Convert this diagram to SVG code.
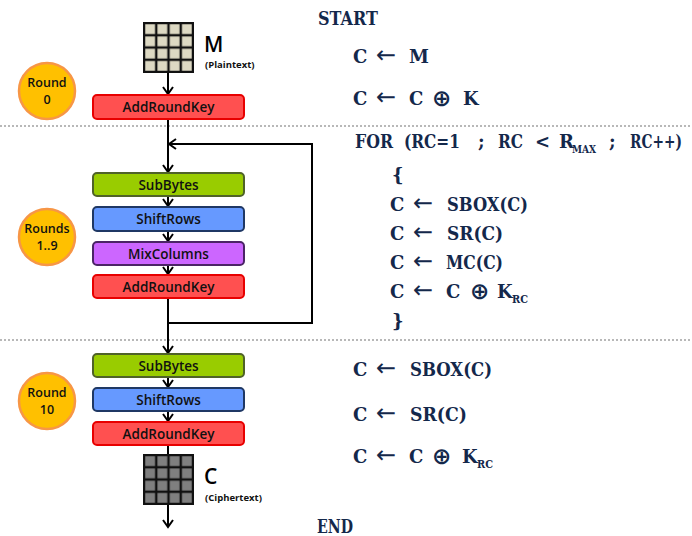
<svg xmlns="http://www.w3.org/2000/svg" width="692" height="536" viewBox="0 0 692 536">
<defs>
<marker id="ah" viewBox="0 0 12 12" refX="10" refY="6" markerWidth="12" markerHeight="12" markerUnits="userSpaceOnUse" orient="auto">
<path d="M3,1 L10,6 L3,11" fill="none" stroke="#000" stroke-width="2"/>
</marker>
<pattern id="g1" x="144" y="23" width="12.25" height="12.25" patternUnits="userSpaceOnUse"><rect width="12.25" height="12.25" fill="#ddd9c3" stroke="#111" stroke-width="2.4"/></pattern>
<pattern id="g2" x="144" y="455" width="12.25" height="12.25" patternUnits="userSpaceOnUse"><rect width="12.25" height="12.25" fill="#7f7f7f" stroke="#111" stroke-width="2.4"/></pattern>
</defs>
<style>
.sep{stroke:#b8b8b8;stroke-width:2;stroke-dasharray:2 2;fill:none}
.ln{stroke:#000;stroke-width:2;fill:none}
.box{stroke-width:2}
.red{fill:#ff5050;stroke:#e80000}
.grn{fill:#99cc00;stroke:#4f6228}
.blu{fill:#6699ff;stroke:#1f3864}
.pur{fill:#cc66ff;stroke:#4b2466}
.bt{font-family:"Open Sans","Liberation Sans",sans-serif;font-weight:600;font-size:13.5px;fill:#111;text-anchor:middle}
.circ{fill:#ffc000;stroke:#f79646;stroke-width:2.5}
.ct{font-family:"Open Sans","Liberation Sans",sans-serif;font-weight:600;font-size:12.5px;fill:#111;text-anchor:middle}
.code{font-family:"DejaVu Serif","Liberation Serif",serif;font-weight:bold;font-size:18px;fill:#14284b}
.sub{font-size:11px}
.arr{font-family:"DejaVu Sans",sans-serif;font-weight:normal;font-size:24px;fill:#14284b}
.xor{font-family:"DejaVu Sans",sans-serif;font-weight:bold;font-size:23px;fill:#14284b}
.big{font-family:"Open Sans","Liberation Sans",sans-serif;font-weight:600;font-size:21px;fill:#000}
.sm{font-family:"Open Sans","Liberation Sans",sans-serif;font-weight:bold;font-size:9.5px;fill:#111}
</style>

<line class="sep" x1="0" y1="126" x2="692" y2="126"/>
<line class="sep" x1="0" y1="340" x2="692" y2="340"/>

<g id="connectors">
<line class="ln" x1="168" y1="72" x2="168" y2="94" marker-end="url(#ah)"/>
<line class="ln" x1="168" y1="119" x2="168" y2="172" marker-end="url(#ah)"/>
<polyline class="ln" points="168,323 312,323 312,144 169,144" marker-end="url(#ah)"/>
<line class="ln" x1="168" y1="196" x2="168" y2="206" marker-end="url(#ah)"/>
<line class="ln" x1="168" y1="231" x2="168" y2="241" marker-end="url(#ah)"/>
<line class="ln" x1="168" y1="265" x2="168" y2="274" marker-end="url(#ah)"/>
<line class="ln" x1="168" y1="298" x2="168" y2="353" marker-end="url(#ah)"/>
<line class="ln" x1="168" y1="377" x2="168" y2="387" marker-end="url(#ah)"/>
<line class="ln" x1="168" y1="411" x2="168" y2="421" marker-end="url(#ah)"/>
<line class="ln" x1="168" y1="445" x2="168" y2="527" marker-end="url(#ah)"/>
</g>

<g id="plaintext">
<rect x="144" y="23" width="49" height="49" fill="url(#g1)" stroke="#111" stroke-width="2"/>
<text class="big" x="204" y="52">M</text>
<text class="sm" x="205" y="68">(Plaintext)</text>
</g>

<g id="round0">
<circle class="circ" cx="47" cy="91" r="28"/>
<text class="ct" x="47" y="87">Round</text>
<text class="ct" x="47" y="104">0</text>
</g>

<g id="ark0">
<rect class="box red" x="93" y="95" width="151" height="24" rx="4"/>
<text class="bt" x="168.5" y="112">AddRoundKey</text>
</g>

<g id="rounds19">
<circle class="circ" cx="47" cy="237" r="28"/>
<text class="ct" x="47" y="233">Rounds</text>
<text class="ct" x="47" y="250">1..9</text>
</g>

<g id="sb1">
<rect class="box grn" x="93" y="173" width="151" height="23" rx="4"/>
<text class="bt" x="168.5" y="189.5">SubBytes</text>
</g>
<g id="sr1">
<rect class="box blu" x="93" y="207" width="151" height="24" rx="4"/>
<text class="bt" x="168.5" y="224">ShiftRows</text>
</g>
<g id="mc1">
<rect class="box pur" x="93" y="242" width="151" height="23" rx="4"/>
<text class="bt" x="168.5" y="258.5">MixColumns</text>
</g>
<g id="ark1">
<rect class="box red" x="93" y="275" width="151" height="23" rx="4"/>
<text class="bt" x="168.5" y="291.5">AddRoundKey</text>
</g>

<g id="round10">
<circle class="circ" cx="47" cy="401" r="28"/>
<text class="ct" x="47" y="397">Round</text>
<text class="ct" x="47" y="414">10</text>
</g>

<g id="sb2">
<rect class="box grn" x="93" y="354" width="151" height="23" rx="4"/>
<text class="bt" x="168.5" y="370.5">SubBytes</text>
</g>
<g id="sr2">
<rect class="box blu" x="93" y="388" width="151" height="23" rx="4"/>
<text class="bt" x="168.5" y="404.5">ShiftRows</text>
</g>
<g id="ark2">
<rect class="box red" x="93" y="422" width="151" height="23" rx="4"/>
<text class="bt" x="168.5" y="438.5">AddRoundKey</text>
</g>

<g id="ciphertext">
<rect x="144" y="455" width="49" height="49" fill="url(#g2)" stroke="#111" stroke-width="2"/>
<text class="big" x="204" y="484">C</text>
<text class="sm" x="205" y="501">(Ciphertext)</text>
</g>

<g id="code">
<text class="code" x="318" y="25" textLength="60" lengthAdjust="spacingAndGlyphs">START</text>

<text class="code" x="353" y="63">C</text>
<text class="arr" x="376" y="63">←</text>
<text class="code" x="409" y="63">M</text>

<text class="code" x="353" y="105">C</text>
<text class="arr" x="376" y="105">←</text>
<text class="code" x="409" y="105">C</text>
<text class="xor" x="432" y="106">⊕</text>
<text class="code" x="463" y="105">K</text>

<text class="code" x="355" y="148" textLength="38" lengthAdjust="spacingAndGlyphs">FOR</text>
<text class="code" x="404" y="148" textLength="56" lengthAdjust="spacingAndGlyphs">(RC=1</text>
<text class="code" x="478" y="148">;</text>
<text class="code" x="498" y="148" textLength="25" lengthAdjust="spacingAndGlyphs">RC</text>
<text class="code" x="535" y="148">&lt;</text>
<text class="code" x="559" y="148">R</text>
<text class="code sub" x="572" y="153" textLength="24" lengthAdjust="spacingAndGlyphs">MAX</text>
<text class="code" x="609" y="148">;</text>
<text class="code" x="630" y="148" textLength="52" lengthAdjust="spacingAndGlyphs">RC++)</text>

<text class="code" x="392" y="181">{</text>

<text class="code" x="390" y="211">C</text>
<text class="arr" x="413" y="211">←</text>
<text class="code" x="447" y="211" textLength="81" lengthAdjust="spacingAndGlyphs">SBOX(C)</text>

<text class="code" x="390" y="240">C</text>
<text class="arr" x="413" y="240">←</text>
<text class="code" x="447" y="240" textLength="56" lengthAdjust="spacingAndGlyphs">SR(C)</text>

<text class="code" x="390" y="269">C</text>
<text class="arr" x="413" y="269">←</text>
<text class="code" x="446" y="269" textLength="57" lengthAdjust="spacingAndGlyphs">MC(C)</text>

<text class="code" x="390" y="298">C</text>
<text class="arr" x="413" y="298">←</text>
<text class="code" x="446" y="298">C</text>
<text class="xor" x="470" y="299">⊕</text>
<text class="code" x="497" y="298">K</text>
<text class="code sub" x="512" y="303" textLength="16" lengthAdjust="spacingAndGlyphs">RC</text>

<text class="code" x="392" y="327">}</text>

<text class="code" x="353" y="376">C</text>
<text class="arr" x="376" y="376">←</text>
<text class="code" x="410" y="376" textLength="82" lengthAdjust="spacingAndGlyphs">SBOX(C)</text>

<text class="code" x="353" y="421">C</text>
<text class="arr" x="376" y="421">←</text>
<text class="code" x="410" y="421" textLength="57" lengthAdjust="spacingAndGlyphs">SR(C)</text>

<text class="code" x="353" y="463">C</text>
<text class="arr" x="376" y="463">←</text>
<text class="code" x="409" y="463">C</text>
<text class="xor" x="432" y="464">⊕</text>
<text class="code" x="462" y="463">K</text>
<text class="code sub" x="477" y="468" textLength="16" lengthAdjust="spacingAndGlyphs">RC</text>

<text class="code" x="317" y="533" textLength="36" lengthAdjust="spacingAndGlyphs">END</text>
</g>
</svg>
